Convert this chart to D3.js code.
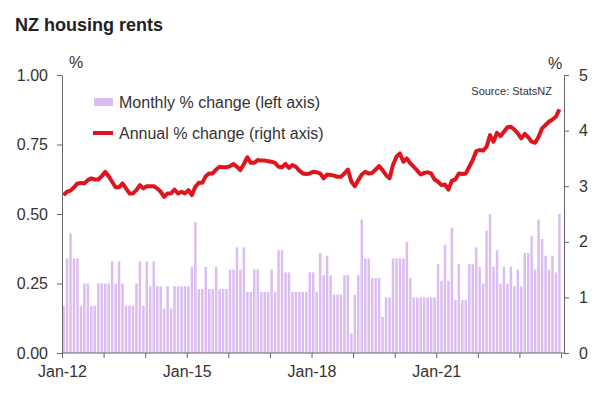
<!DOCTYPE html>
<html>
<head>
<meta charset="utf-8">
<script src="https://cdn.jsdelivr.net/npm/d3@7"></script>
<style>
  body { margin: 0; background: #fff; }
  svg text { font-family: "Liberation Sans", Arial, sans-serif; fill: #333; }
  .axis path, .axis line { stroke: #666; }
</style>
</head>
<body>
<svg id="chart" width="600" height="398"></svg>
<script>
// months Jan-12 .. Dec-23
const months = d3.timeMonth.range(new Date(2012, 0, 1), new Date(2024, 0, 1));

// monthly % change (left axis)
const monthlyChange = [
  0.17, 0.34, 0.43, 0.34, 0.34, 0.17, 0.25, 0.25, 0.17, 0.17, 0.25, 0.25,
  0.25, 0.25, 0.33, 0.25, 0.33, 0.25, 0.17, 0.17, 0.17, 0.25, 0.33, 0.17,
  0.33, 0.24, 0.33, 0.24, 0.24, 0.16, 0.24, 0.16, 0.24, 0.24, 0.24, 0.24,
  0.24, 0.31, 0.47, 0.23, 0.23, 0.31, 0.23, 0.23, 0.31, 0.23, 0.23, 0.23,
  0.30, 0.30, 0.38, 0.30, 0.38, 0.22, 0.22, 0.30, 0.30, 0.22, 0.22, 0.22,
  0.30, 0.22, 0.37, 0.37, 0.29, 0.29, 0.22, 0.22, 0.22, 0.22, 0.22, 0.29,
  0.29, 0.22, 0.36, 0.28, 0.35, 0.28, 0.21, 0.21, 0.21, 0.28, 0.28, 0.07,
  0.21, 0.28, 0.48, 0.34, 0.34, 0.27, 0.27, 0.27, 0.13, 0.20, 0.20, 0.34,
  0.34, 0.34, 0.34, 0.40, 0.27, 0.20, 0.20, 0.20, 0.20, 0.20, 0.20, 0.20,
  0.32, 0.26, 0.39, 0.26, 0.45, 0.19, 0.32, 0.19, 0.19, 0.32, 0.32, 0.38,
  0.31, 0.25, 0.44, 0.50, 0.31, 0.37, 0.25, 0.31, 0.25, 0.31, 0.24, 0.30,
  0.24, 0.36, 0.36, 0.42, 0.30, 0.48, 0.41, 0.35, 0.30, 0.35, 0.29, 0.50
];

// annual % change (right axis)
const annualChange = [
  2.84, 2.90, 2.92, 2.98, 3.05, 3.06, 3.05, 3.11, 3.14, 3.12, 3.12, 3.18,
  3.26, 3.18, 3.08, 2.98, 2.98, 3.05, 2.96, 2.87, 2.87, 2.93, 3.02, 2.96,
  3.00, 3.00, 3.00, 2.96, 2.90, 2.81, 2.87, 2.87, 2.94, 2.87, 2.90, 2.87,
  2.93, 2.84, 2.99, 3.06, 3.06, 3.18, 3.23, 3.23, 3.30, 3.35, 3.34, 3.34,
  3.36, 3.40, 3.35, 3.29, 3.40, 3.52, 3.42, 3.42, 3.47, 3.46, 3.46, 3.45,
  3.44, 3.42, 3.35, 3.34, 3.40, 3.33, 3.38, 3.35, 3.28, 3.23, 3.22, 3.23,
  3.26, 3.25, 3.23, 3.14, 3.21, 3.20, 3.19, 3.17, 3.17, 3.23, 3.30, 3.08,
  3.00, 3.11, 3.21, 3.26, 3.23, 3.24, 3.30, 3.36, 3.29, 3.20, 3.14, 3.38,
  3.53, 3.59, 3.44, 3.50, 3.41, 3.35, 3.28, 3.21, 3.24, 3.25, 3.23, 3.12,
  3.08, 3.02, 3.03, 2.94, 3.10, 3.12, 3.23, 3.22, 3.23, 3.35, 3.47, 3.63,
  3.65, 3.64, 3.71, 3.92, 3.80, 3.96, 3.90, 3.98, 4.06, 4.07, 4.02, 3.95,
  3.86, 3.94, 3.88, 3.80, 3.78, 3.89, 4.04, 4.10, 4.16, 4.20, 4.25, 4.38
];

const leftTicks = [0, 0.25, 0.5, 0.75, 1];
const rightTicks = [0, 1, 2, 3, 4, 5];
const labelledYears = [2012, 2015, 2018, 2021];

const barColor = "#dcbdf2";
const lineColor = "#e0141e";

const svg = d3.select("#chart");
const plotLeft = 62, plotRight = 561, rightAxisX = 564, plotTop = 75, plotBottom = 353;

const x = d3.scaleBand()
  .domain(d3.range(months.length))
  .range([plotLeft, plotRight])
  .paddingInner(0.28)
  .paddingOuter(0.1);

// month index scale, used for the year ticks at band edges
const xTick = d3.scaleLinear().domain([0, months.length]).range([plotLeft, plotRight]);

const yL = d3.scaleLinear().domain([0, 1]).range([plotBottom, plotTop]);
const yR = d3.scaleLinear().domain([0, 5]).range([plotBottom, plotTop]);

// title
svg.append("text")
  .attr("x", 15).attr("y", 31)
  .style("font-size", "18px").style("font-weight", "bold").style("fill", "#222")
  .text("NZ housing rents");

// bars
svg.append("g").selectAll("rect")
  .data(monthlyChange)
  .join("rect")
  .attr("x", (d, i) => x(i))
  .attr("y", d => yL(d))
  .attr("width", x.bandwidth())
  .attr("height", d => yL(0) - yL(d))
  .attr("fill", barColor);

// line
const line = d3.line()
  .x((d, i) => x(i) + x.bandwidth() / 2)
  .y(d => yR(d));

svg.append("path")
  .datum(annualChange)
  .attr("d", line)
  .attr("fill", "none")
  .attr("stroke", lineColor)
  .attr("stroke-width", 4)
  .attr("stroke-linejoin", "round");

// left axis
svg.append("g").classed("axis", true)
  .attr("transform", `translate(${plotLeft},0)`)
  .call(d3.axisLeft(yL).tickValues(leftTicks).tickFormat(d3.format(".2f"))
    .tickSize(5).tickSizeOuter(0).tickPadding(9))
  .call(g => g.selectAll("text").style("font-size", "16px"));

// right axis
svg.append("g").classed("axis", true)
  .attr("transform", `translate(${rightAxisX},0)`)
  .call(d3.axisRight(yR).tickValues(rightTicks).tickFormat(d3.format("d"))
    .tickSize(5).tickSizeOuter(0).tickPadding(10))
  .call(g => g.selectAll("text").style("font-size", "16px"));

// bottom axis, ticks every January, labels every 3 years
const yearIdx = d3.range(0, months.length + 1, 12);
svg.append("g").classed("axis", true)
  .attr("transform", `translate(0,${plotBottom})`)
  .call(d3.axisBottom(xTick).tickValues(yearIdx)
    .tickFormat(i => {
      const yr = 2012 + i / 12;
      return labelledYears.includes(yr) ? d3.timeFormat("Jan-%y")(new Date(yr, 0, 1)) : "";
    })
    .tickSize(5).tickSizeOuter(0).tickPadding(8))
  .call(g => g.select(".domain").remove())
  .call(g => g.selectAll("text").style("font-size", "16px"));

svg.append("line")
  .attr("x1", plotLeft).attr("x2", rightAxisX)
  .attr("y1", plotBottom).attr("y2", plotBottom)
  .attr("stroke", "#666");

// unit labels
svg.append("text").attr("x", 76).attr("y", 68).attr("text-anchor", "middle")
  .style("font-size", "16px").text("%");
svg.append("text").attr("x", 555).attr("y", 69).attr("text-anchor", "middle")
  .style("font-size", "16px").text("%");

// source
svg.append("text").attr("x", 552).attr("y", 95).attr("text-anchor", "end")
  .style("font-size", "11px").text("Source: StatsNZ");

// legend
const legend = svg.append("g");
legend.append("rect")
  .attr("x", 94).attr("y", 98).attr("width", 19).attr("height", 8)
  .attr("fill", barColor);
legend.append("text").attr("x", 119).attr("y", 102).attr("dy", "0.35em")
  .style("font-size", "16px").text("Monthly % change (left axis)");
legend.append("line")
  .attr("x1", 93).attr("x2", 113).attr("y1", 133).attr("y2", 133)
  .attr("stroke", lineColor).attr("stroke-width", 4);
legend.append("text").attr("x", 119).attr("y", 133).attr("dy", "0.35em")
  .style("font-size", "16px").text("Annual % change (right axis)");
</script>
</body>
</html>
